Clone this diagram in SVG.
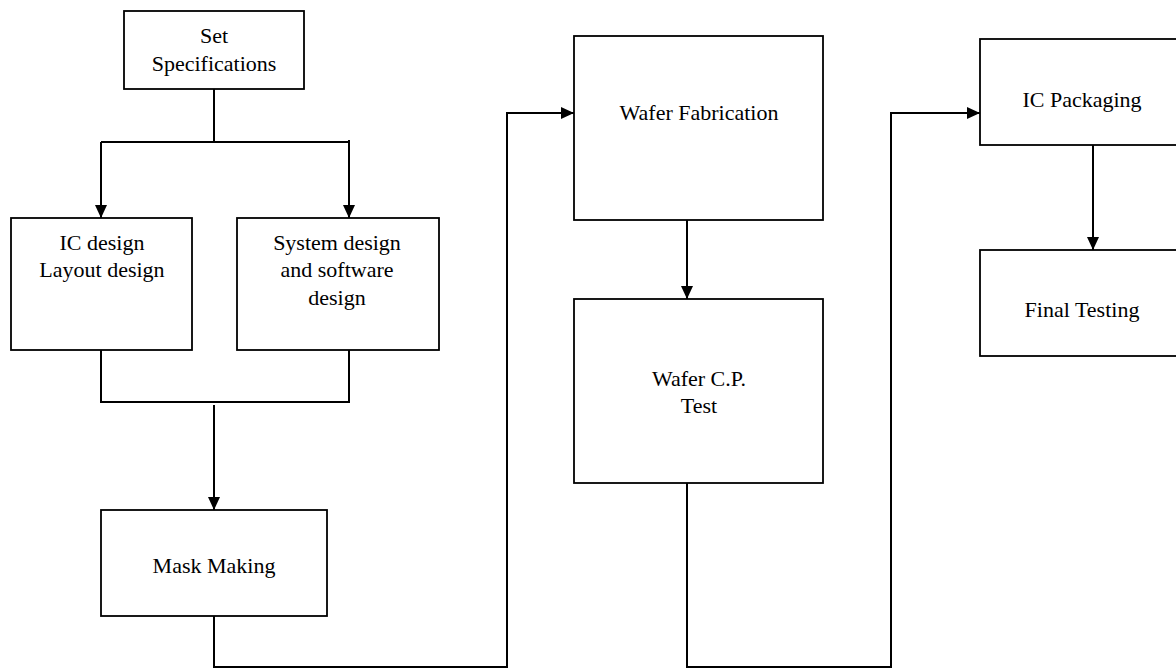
<svg xmlns="http://www.w3.org/2000/svg" width="1176" height="668" viewBox="0 0 1176 668">
<style>
.box{fill:#fff;stroke:#000;stroke-width:1.8}
.ln{fill:none;stroke:#000;stroke-width:2}
text{font-family:"Liberation Serif","Times New Roman",serif;font-size:22px;fill:#000;text-anchor:middle}
</style>
<defs>
<marker id="arr" markerUnits="userSpaceOnUse" markerWidth="13" markerHeight="12" refX="13" refY="6" orient="auto">
<path d="M0,0 L13,6 L0,12 z" fill="#000"/>
</marker>
</defs>
<rect width="1176" height="668" fill="#fff"/>
<g id="connectors">
<path class="ln" d="M214,89 V142 M101,142 H349"/>
<path class="ln" d="M101,142 V218" marker-end="url(#arr)"/>
<path class="ln" d="M349,140 V218" marker-end="url(#arr)"/>
<path class="ln" d="M101,350 V402 H349 V350"/>
<path class="ln" d="M214,405 V510" marker-end="url(#arr)"/>
<path class="ln" d="M214,616 V667 H507 V113 H574" marker-end="url(#arr)"/>
<path class="ln" d="M687,220 V299" marker-end="url(#arr)"/>
<path class="ln" d="M687,483 V667 H891 V113 H980" marker-end="url(#arr)"/>
<path class="ln" d="M1093,145 V250" marker-end="url(#arr)"/>
</g>
<g id="set-specifications">
<rect class="box" x="124" y="11" width="180" height="78"/>
<text x="214" y="43">Set</text>
<text x="214" y="71">Specifications</text>
</g>
<g id="ic-design">
<rect class="box" x="11" y="218" width="181" height="132"/>
<text x="102" y="250">IC design</text>
<text x="102" y="277">Layout design</text>
</g>
<g id="system-design">
<rect class="box" x="237" y="218" width="202" height="132"/>
<text x="337" y="250">System design</text>
<text x="337" y="277">and software</text>
<text x="337" y="305">design</text>
</g>
<g id="mask-making">
<rect class="box" x="101" y="510" width="226" height="106"/>
<text x="214" y="573">Mask Making</text>
</g>
<g id="wafer-fabrication">
<rect class="box" x="574" y="36" width="249" height="184"/>
<text x="699" y="120">Wafer Fabrication</text>
</g>
<g id="wafer-cp-test">
<rect class="box" x="574" y="299" width="249" height="184"/>
<text x="699" y="386">Wafer C.P.</text>
<text x="699" y="413">Test</text>
</g>
<g id="ic-packaging">
<rect class="box" x="980" y="39" width="210" height="106"/>
<text x="1082" y="107">IC Packaging</text>
</g>
<g id="final-testing">
<rect class="box" x="980" y="250" width="210" height="106"/>
<text x="1082" y="317">Final Testing</text>
</g>
</svg>
